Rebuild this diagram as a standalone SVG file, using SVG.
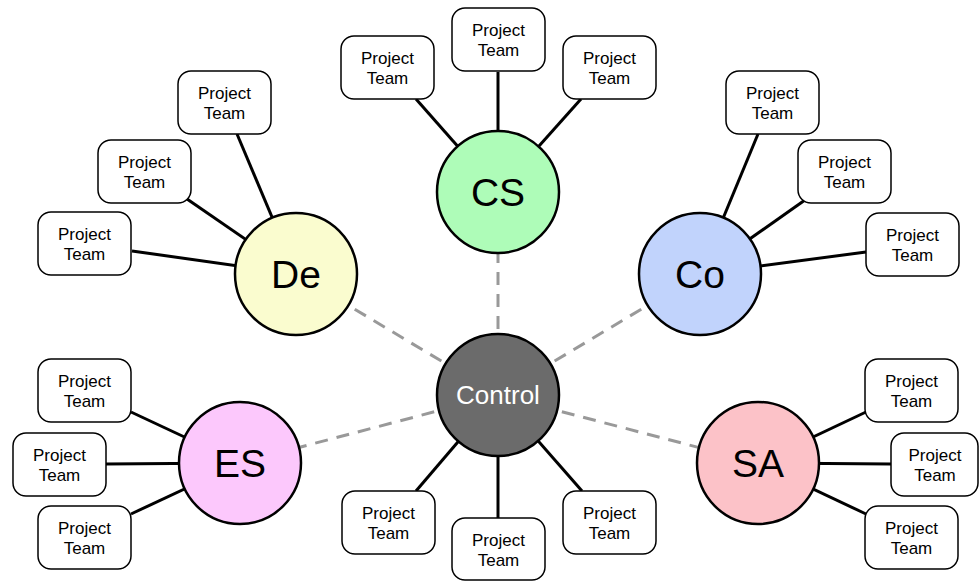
<svg xmlns="http://www.w3.org/2000/svg" width="979" height="581" viewBox="0 0 979 581">
<style>
.box{fill:#fff;stroke:#000;stroke-width:1.5}
.pt{font-family:"Liberation Sans",Arial,sans-serif;font-size:17px;fill:#000;text-anchor:middle}
.link{stroke:#000;stroke-width:3;fill:none}
.dash{stroke:#999;stroke-width:3;stroke-dasharray:13 9;fill:none}
.hub{stroke:#000;stroke-width:2.5}
.big{font-family:"Liberation Sans",Arial,sans-serif;font-size:39px;fill:#000;text-anchor:middle}
.ctl{font-family:"Liberation Sans",Arial,sans-serif;font-size:26px;fill:#fff;text-anchor:middle}
</style>
<rect width="979" height="581" fill="#fff"/>
<g id="connectors">
<line class="dash" x1="498" y1="395" x2="498" y2="192"/>
<line class="dash" x1="498" y1="395" x2="296" y2="274"/>
<line class="dash" x1="498" y1="395" x2="700" y2="274"/>
<line class="dash" x1="498" y1="395" x2="240" y2="463"/>
<line class="dash" x1="498" y1="395" x2="758" y2="463"/>
<line class="link" x1="416" y1="99" x2="498" y2="192"/>
<line class="link" x1="498" y1="72" x2="498" y2="192"/>
<line class="link" x1="581" y1="99" x2="498" y2="192"/>
<line class="link" x1="237" y1="134" x2="296" y2="274"/>
<line class="link" x1="187" y1="199" x2="296" y2="274"/>
<line class="link" x1="132" y1="251" x2="296" y2="274"/>
<line class="link" x1="758" y1="134" x2="700" y2="274"/>
<line class="link" x1="805" y1="200" x2="700" y2="274"/>
<line class="link" x1="866" y1="252" x2="700" y2="274"/>
<line class="link" x1="131" y1="412" x2="240" y2="463"/>
<line class="link" x1="106" y1="464" x2="240" y2="463"/>
<line class="link" x1="131" y1="514" x2="240" y2="463"/>
<line class="link" x1="866" y1="412" x2="758" y2="463"/>
<line class="link" x1="891" y1="464" x2="758" y2="463"/>
<line class="link" x1="866" y1="514" x2="758" y2="463"/>
<line class="link" x1="416" y1="491" x2="498" y2="395"/>
<line class="link" x1="498" y1="518" x2="498" y2="395"/>
<line class="link" x1="582" y1="491" x2="498" y2="395"/>
</g>
<g id="node-control"><circle class="hub" cx="498" cy="395" r="61" fill="#6b6b6b"/><text class="ctl" x="498" y="404">Control</text></g>
<g id="node-cs"><circle class="hub" cx="498" cy="192" r="61" fill="#aefcb8"/><text class="big" x="498" y="206">CS</text></g>
<g id="node-de"><circle class="hub" cx="296" cy="274" r="61" fill="#fafccf"/><text class="big" x="296" y="288">De</text></g>
<g id="node-co"><circle class="hub" cx="700" cy="274" r="61" fill="#c1d3fc"/><text class="big" x="700" y="288">Co</text></g>
<g id="node-es"><circle class="hub" cx="240" cy="463" r="61" fill="#fcc8fc"/><text class="big" x="240" y="477">ES</text></g>
<g id="node-sa"><circle class="hub" cx="758" cy="463" r="61" fill="#fcc2c8"/><text class="big" x="758" y="477">SA</text></g>
<g id="pt-cs-1"><rect class="box" x="341" y="36" width="93" height="63" rx="13"/><text class="pt" x="387.5" y="64">Project</text><text class="pt" x="387.5" y="84">Team</text></g>
<g id="pt-cs-2"><rect class="box" x="452" y="8" width="93" height="63" rx="13"/><text class="pt" x="498.5" y="36">Project</text><text class="pt" x="498.5" y="56">Team</text></g>
<g id="pt-cs-3"><rect class="box" x="563" y="36" width="93" height="63" rx="13"/><text class="pt" x="609.5" y="64">Project</text><text class="pt" x="609.5" y="84">Team</text></g>
<g id="pt-de-1"><rect class="box" x="178" y="71" width="93" height="63" rx="13"/><text class="pt" x="224.5" y="99">Project</text><text class="pt" x="224.5" y="119">Team</text></g>
<g id="pt-de-2"><rect class="box" x="98" y="140" width="93" height="63" rx="13"/><text class="pt" x="144.5" y="168">Project</text><text class="pt" x="144.5" y="188">Team</text></g>
<g id="pt-de-3"><rect class="box" x="38" y="212" width="93" height="63" rx="13"/><text class="pt" x="84.5" y="240">Project</text><text class="pt" x="84.5" y="260">Team</text></g>
<g id="pt-co-1"><rect class="box" x="726" y="71" width="93" height="63" rx="13"/><text class="pt" x="772.5" y="99">Project</text><text class="pt" x="772.5" y="119">Team</text></g>
<g id="pt-co-2"><rect class="box" x="798" y="140" width="93" height="63" rx="13"/><text class="pt" x="844.5" y="168">Project</text><text class="pt" x="844.5" y="188">Team</text></g>
<g id="pt-co-3"><rect class="box" x="866" y="213" width="93" height="63" rx="13"/><text class="pt" x="912.5" y="241">Project</text><text class="pt" x="912.5" y="261">Team</text></g>
<g id="pt-es-1"><rect class="box" x="38" y="359" width="93" height="63" rx="13"/><text class="pt" x="84.5" y="387">Project</text><text class="pt" x="84.5" y="407">Team</text></g>
<g id="pt-es-2"><rect class="box" x="13" y="433" width="93" height="63" rx="13"/><text class="pt" x="59.5" y="461">Project</text><text class="pt" x="59.5" y="481">Team</text></g>
<g id="pt-es-3"><rect class="box" x="38" y="506" width="93" height="63" rx="13"/><text class="pt" x="84.5" y="534">Project</text><text class="pt" x="84.5" y="554">Team</text></g>
<g id="pt-sa-1"><rect class="box" x="865" y="359" width="93" height="63" rx="13"/><text class="pt" x="911.5" y="387">Project</text><text class="pt" x="911.5" y="407">Team</text></g>
<g id="pt-sa-2"><rect class="box" x="891" y="433" width="87" height="63" rx="13"/><text class="pt" x="935" y="461">Project</text><text class="pt" x="935" y="481">Team</text></g>
<g id="pt-sa-3"><rect class="box" x="865" y="506" width="93" height="63" rx="13"/><text class="pt" x="911.5" y="534">Project</text><text class="pt" x="911.5" y="554">Team</text></g>
<g id="pt-ctl-1"><rect class="box" x="342" y="491" width="93" height="63" rx="13"/><text class="pt" x="388.5" y="519">Project</text><text class="pt" x="388.5" y="539">Team</text></g>
<g id="pt-ctl-2"><rect class="box" x="452" y="518" width="93" height="62" rx="13"/><text class="pt" x="498.5" y="546">Project</text><text class="pt" x="498.5" y="566">Team</text></g>
<g id="pt-ctl-3"><rect class="box" x="563" y="491" width="93" height="63" rx="13"/><text class="pt" x="609.5" y="519">Project</text><text class="pt" x="609.5" y="539">Team</text></g>
</svg>
